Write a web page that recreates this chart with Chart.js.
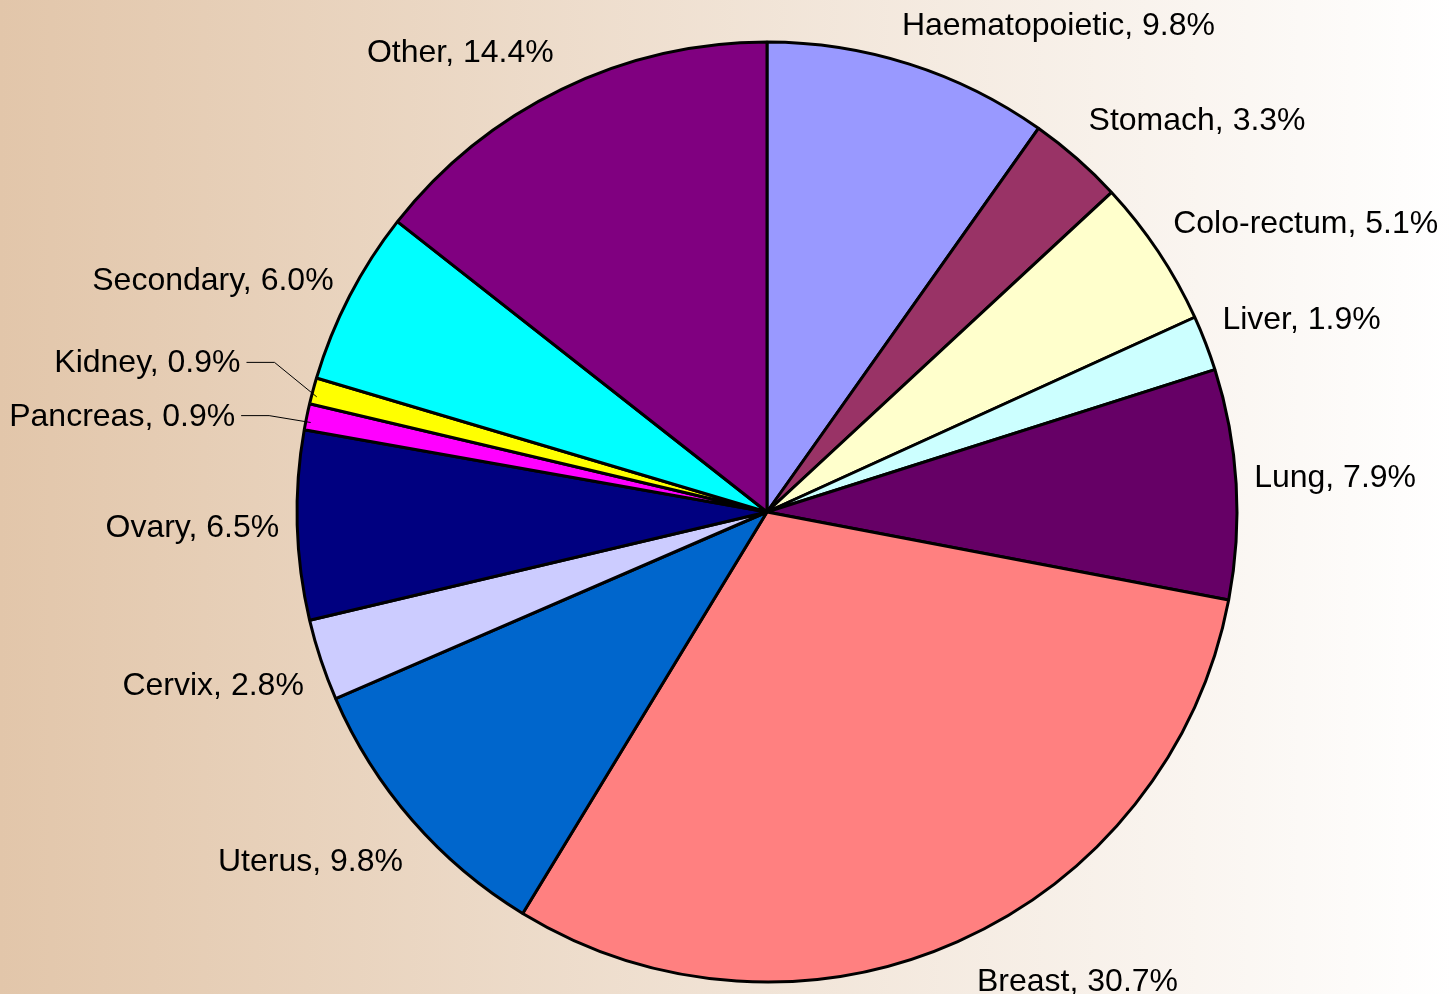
<!DOCTYPE html>
<html>
<head>
<meta charset="utf-8">
<script src="https://cdn.jsdelivr.net/npm/chart.js@4/dist/chart.umd.min.js"></script>
<style>
html, body { margin: 0; padding: 0; }
canvas { display: block; }
</style>
</head>
<body>
<canvas id="siteChart" width="1453" height="994"></canvas>
<script>
// cancer sites, clockwise from 12 o'clock
const sites = ['Haematopoietic', 'Stomach', 'Colo-rectum', 'Liver', 'Lung', 'Breast', 'Uterus',
    'Cervix', 'Ovary', 'Pancreas', 'Kidney', 'Secondary', 'Other'];
const shares = [9.8, 3.3, 5.1, 1.9, 7.9, 30.7, 9.8, 2.8, 6.5, 0.9, 0.9, 6.0, 14.4];
const sliceColors = ['#9999ff', '#993366', '#ffffcc', '#ccffff', '#660066', '#ff8080', '#0066cc',
    '#ccccff', '#000080', '#ff00ff', '#ffff00', '#00ffff', '#800080'];

// small label shifts (px); the ones flagged true get a leader line
const labelNudge = {
    'Haematopoietic': [-13, 0],
    'Stomach': [0, -5],
    'Lung': [0, -6],
    'Breast': [12, 0],
    'Uterus': [4, 7],
    'Secondary': [0, 10],
    'Kidney': [-55, -7, true],
    'Pancreas': [-54, 19, true]
};

const bgPlugin = {
    id: 'bg',
    beforeDraw(chart) {
        const ctx = chart.ctx;
        const g = ctx.createLinearGradient(0, 0, chart.width, 0);
        g.addColorStop(0, '#e2c6aa');
        g.addColorStop(1, '#ffffff');
        ctx.save();
        ctx.fillStyle = g;
        ctx.fillRect(0, 0, chart.width, chart.height);
        ctx.restore();
    }
};

const labelPlugin = {
    id: 'sliceLabels',
    afterDatasetsDraw(chart) {
        const ctx = chart.ctx;
        const meta = chart.getDatasetMeta(0);
        ctx.save();
        ctx.font = '32px "Liberation Sans", Arial, sans-serif';
        ctx.fillStyle = '#000';
        ctx.textBaseline = 'alphabetic';
        ctx.textAlign = 'left';

        meta.data.forEach(function (arc, i) {
            const p = arc.getProps(['x', 'y', 'startAngle', 'endAngle', 'outerRadius'], true);
            const mid = (p.startAngle + p.endAngle) / 2;
            const dx = Math.cos(mid), dy = Math.sin(mid);
            const text = sites[i] + ', ' + shares[i].toFixed(1) + '%';
            const w = ctx.measureText(text).width;

            // near corner of the label box sits just outside the rim
            const px = p.x + dx * (p.outerRadius + 18);
            const py = p.y + dy * (p.outerRadius + 25);

            let left = dx >= 0 ? px : px - w;
            let midY;
            if (Math.abs(dy) < 0.15) midY = py;
            else if (dy < 0) midY = py - 16;
            else midY = py + 16;

            const nudge = labelNudge[sites[i]];
            if (nudge) {
                left += nudge[0];
                midY += nudge[1];
                if (nudge[2]) {
                    const right = left + w;
                    ctx.beginPath();
                    ctx.strokeStyle = '#000';
                    ctx.lineWidth = 1;
                    ctx.moveTo(right + 6, midY + 1);
                    ctx.lineTo(right + 34, midY + 1);
                    ctx.lineTo(p.x + dx * (p.outerRadius - 4), p.y + dy * (p.outerRadius - 4) + 5);
                    ctx.stroke();
                }
            }

            ctx.fillText(text, left, midY + 11);
        });
        ctx.restore();
    }
};

new Chart(document.getElementById('siteChart'), {
    type: 'pie',
    data: {
        labels: sites,
        datasets: [{
            data: shares,
            backgroundColor: sliceColors,
            borderColor: '#000',
            borderWidth: 3
        }]
    },
    options: {
        responsive: false,
        animation: false,
        radius: 470,
        layout: {
            padding: { left: 81, right: 0, top: 30, bottom: 0 }
        },
        plugins: {
            legend: { display: false },
            tooltip: { enabled: false }
        }
    },
    plugins: [bgPlugin, labelPlugin]
});
</script>
</body>
</html>
